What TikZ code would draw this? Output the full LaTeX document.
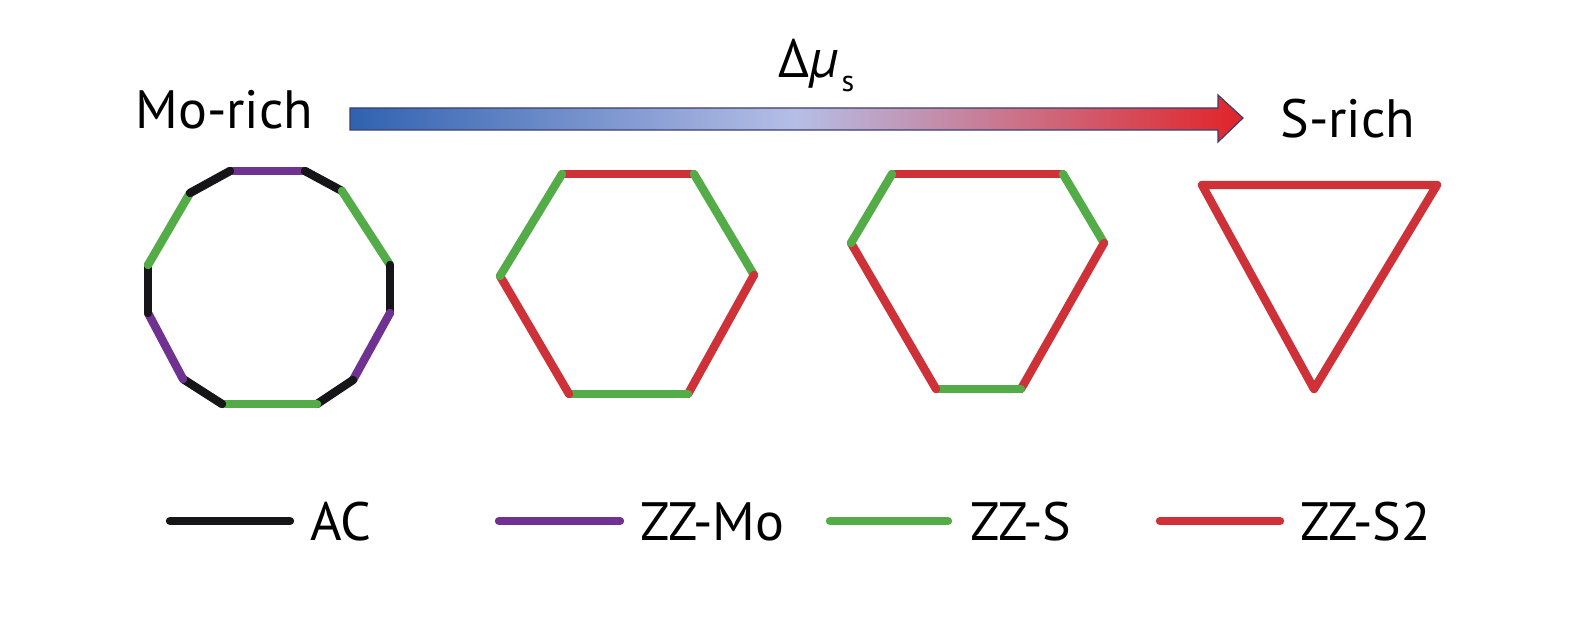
\documentclass[tikz,border=0pt]{standalone}
\usepackage{fontspec}
\setmainfont{PT Sans}
\usetikzlibrary{positioning}

\definecolor{acblack}{RGB}{22,22,24}
\definecolor{zzmocol}{RGB}{112,50,145}
\definecolor{zzscol}{RGB}{84,172,72}
\definecolor{zzstwocol}{RGB}{206,50,56}
\definecolor{arrblue}{RGB}{48,98,176}
\definecolor{arrmid}{RGB}{182,190,230}
\definecolor{arrred}{RGB}{225,35,40}
\definecolor{arredge}{RGB}{60,62,110}

\tikzset{
  edge/.style={line width=4.2pt, line cap=round, line join=round},
  acedge/.style={edge, draw=acblack},
  moedge/.style={edge, draw=zzmocol},
  sedge/.style={edge, draw=zzscol},
  stwoedge/.style={edge, draw=zzstwocol},
  toplbl/.style={font=\fontsize{27}{29}\selectfont, inner sep=0pt, anchor=base west},
  leglbl/.style={font=\fontsize{27}{29}\selectfont, inner sep=0pt, anchor=base west},
}

\begin{document}
\begin{tikzpicture}[x=0.5pt,y=0.5pt,yscale=-1]
\useasboundingbox (0,0) rectangle (1575,620);

%Arrow with gradient
\shade[left color=arrblue, right color=arrred, middle color=arrmid, draw=arredge, line width=0.6pt]
  (350,108) -- (1218,108) -- (1218,95) -- (1243,118) -- (1218,142) -- (1218,130) -- (350,130) -- cycle;

% Text Node
\node[toplbl] (morich) at (135,129) {Mo-rich};
% Text Node
\node[toplbl] (srich) at (1280,138) {S-rich};
% Text Node
\node[toplbl] (dmu) at (778,78) {Δ\textit{μ}\hspace{2pt}\raisebox{-0.5ex}{\fontsize{15}{16}\selectfont s}};

%Dodecagon (Mo-rich)
\coordinate (d1) at (230,171);
\coordinate (d2) at (305,171);
\coordinate (d3) at (342,191);
\coordinate (d4) at (390,265);
\coordinate (d5) at (390,313);
\coordinate (d6) at (353,380);
\coordinate (d7) at (317,404);
\coordinate (d8) at (222,404);
\coordinate (d9) at (183,379);
\coordinate (d10) at (148,313);
\coordinate (d11) at (148,265);
\coordinate (d12) at (190,193);
\draw[moedge] (d1) -- (d2);
\draw[acedge] (d2) -- (d3);
\draw[sedge] (d3) -- (d4);
\draw[acedge] (d4) -- (d5);
\draw[moedge] (d5) -- (d6);
\draw[acedge] (d6) -- (d7);
\draw[sedge] (d7) -- (d8);
\draw[acedge] (d8) -- (d9);
\draw[moedge] (d9) -- (d10);
\draw[acedge] (d10) -- (d11);
\draw[sedge] (d11) -- (d12);
\draw[acedge] (d12) -- (d1);

%Hexagon 1
\coordinate (h1) at (562,174);
\coordinate (h2) at (694,174);
\coordinate (h3) at (754,275);
\coordinate (h4) at (688,394);
\coordinate (h5) at (569,394);
\coordinate (h6) at (500,276);
\draw[stwoedge] (h1) -- (h2);
\draw[sedge] (h2) -- (h3);
\draw[stwoedge] (h3) -- (h4);
\draw[sedge] (h4) -- (h5);
\draw[stwoedge] (h5) -- (h6);
\draw[sedge] (h6) -- (h1);

%Hexagon 2
\coordinate (k1) at (892,174);
\coordinate (k2) at (1063,174);
\coordinate (k3) at (1104,243);
\coordinate (k4) at (1021,389);
\coordinate (k5) at (936,389);
\coordinate (k6) at (851,243);
\draw[stwoedge] (k1) -- (k2);
\draw[sedge] (k2) -- (k3);
\draw[stwoedge] (k3) -- (k4);
\draw[sedge] (k4) -- (k5);
\draw[stwoedge] (k5) -- (k6);
\draw[sedge] (k6) -- (k1);

%Triangle (S-rich)
\coordinate (t1) at (1202,185);
\coordinate (t2) at (1437,185);
\coordinate (t3) at (1314,389);
\draw[stwoedge] (t1) -- (t2) -- (t3) -- cycle;

%Legend
\draw[acedge] (170,521) -- (290,521);
\node[leglbl] (acl) at (310,540) {AC};
\draw[moedge] (499,521) -- (620,521);
\node[leglbl] (mol) at (640,540) {ZZ-Mo};
\draw[sedge] (830,521) -- (948,521);
\node[leglbl] (sl) at (970,540) {ZZ-S};
\draw[stwoedge] (1160,521) -- (1280,521);
\node[leglbl] (stwol) at (1300,540) {ZZ-S2};

\end{tikzpicture}
\end{document}
